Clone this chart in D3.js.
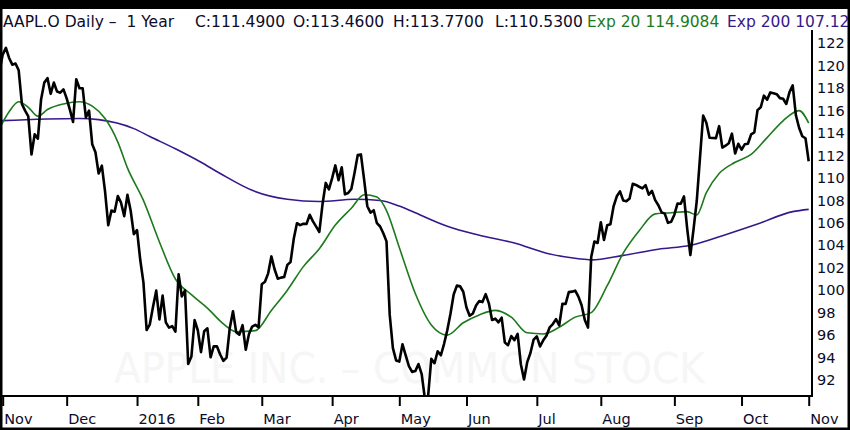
<!DOCTYPE html>
<html>
<head>
<meta charset="utf-8">
<script src="https://cdn.jsdelivr.net/npm/d3@7"></script>
<style>
  body { margin: 0; background: #fff; }
  svg { display: block; font-family: "DejaVu Sans", Verdana, sans-serif; }
</style>
</head>
<body>
<div id="graf"></div>
<script>
// trading sessions, Oct 30 2015 .. Nov 1 2016
const sessionMonths = ["2015-10", "2015-11", "2015-12", "2016-01", "2016-02", "2016-03", "2016-04",
  "2016-05", "2016-06", "2016-07", "2016-08", "2016-09", "2016-10", "2016-11"]
const sessionDays = [
  [30],
  [2, 3, 4, 5, 6, 9, 10, 11, 12, 13, 16, 17, 18, 19, 20, 23, 24, 25, 27, 30],
  [1, 2, 3, 4, 7, 8, 9, 10, 11, 14, 15, 16, 17, 18, 21, 22, 23, 24, 28, 29, 30, 31],
  [4, 5, 6, 7, 8, 11, 12, 13, 14, 15, 19, 20, 21, 22, 25, 26, 27, 28, 29],
  [1, 2, 3, 4, 5, 8, 9, 10, 11, 12, 16, 17, 18, 19, 22, 23, 24, 25, 26, 29],
  [1, 2, 3, 4, 7, 8, 9, 10, 11, 14, 15, 16, 17, 18, 21, 22, 23, 24, 28, 29, 30, 31],
  [1, 4, 5, 6, 7, 8, 11, 12, 13, 14, 15, 18, 19, 20, 21, 22, 25, 26, 27, 28, 29],
  [2, 3, 4, 5, 6, 9, 10, 11, 12, 13, 16, 17, 18, 19, 20, 23, 24, 25, 26, 27, 31],
  [1, 2, 3, 6, 7, 8, 9, 10, 13, 14, 15, 16, 17, 20, 21, 22, 23, 24, 27, 28, 29, 30],
  [1, 5, 6, 7, 8, 11, 12, 13, 14, 15, 18, 19, 20, 21, 22, 25, 26, 27, 28, 29],
  [1, 2, 3, 4, 5, 8, 9, 10, 11, 12, 15, 16, 17, 18, 19, 22, 23, 24, 25, 26, 29, 30, 31],
  [1, 2, 6, 7, 8, 9, 12, 13, 14, 15, 16, 19, 20, 21, 22, 23, 26, 27, 28, 29, 30],
  [3, 4, 5, 6, 7, 10, 11, 12, 13, 14, 17, 18, 19, 20, 21, 24, 25, 26, 27, 28, 31],
  [1]
]
const monthLabels = ["Nov", "Dec", "2016", "Feb", "Mar", "Apr", "May", "Jun", "Jul", "Aug", "Sep", "Oct", "Nov"]

// daily close, one month per line
const closes = [
  119.50,
  121.0, 121.6, 120.7, 120.1, 120.2, 119.6, 116.6, 116.0, 115.5, 112.1, 113.9, 113.5, 117.0, 118.5, 118.9, 117.5, 118.5, 117.7, 117.6, 117.9,
  117.1, 116.1, 115.0, 118.8, 118.0, 118.0, 115.4, 116.0, 113.0, 112.3, 110.4, 111.1, 108.8, 105.8, 107.1, 107.0, 108.4, 107.8, 106.6, 108.5, 107.1, 105.0,
  105.35, 102.71, 100.70, 96.45, 96.96, 98.53, 99.96, 97.39, 99.52, 97.13, 96.66, 96.79, 96.30, 101.42, 99.44, 99.99, 93.42, 94.09, 97.34,
  96.43, 94.48, 96.35, 96.60, 94.02, 95.01, 94.99, 94.27, 93.70, 93.99, 96.64, 98.12, 96.26, 96.04, 96.88, 94.69, 96.10, 96.76, 96.91, 96.69,
  100.53, 100.75, 101.50, 103.01, 101.87, 101.03, 101.12, 101.17, 102.26, 102.52, 104.58, 105.97, 105.80, 105.92, 105.91, 106.72, 106.13, 105.67, 105.19, 107.68, 109.56, 108.99,
  109.99, 111.12, 109.81, 110.96, 108.54, 108.66, 109.02, 110.44, 112.04, 112.10, 109.85, 107.48, 106.91, 107.13, 105.97, 105.68, 105.08, 104.35, 97.82, 94.83, 93.74,
  93.64, 95.18, 94.19, 93.24, 92.72, 92.79, 93.42, 92.51, 90.34, 90.52, 93.88, 93.49, 94.56, 94.20, 95.22, 96.43, 97.90, 99.62, 100.41, 100.35, 99.86,
  98.46, 97.72, 97.92, 98.63, 99.03, 98.94, 99.65, 98.83, 97.34, 97.46, 97.14, 97.55, 95.33, 95.10, 95.91, 95.55, 96.10, 93.40, 92.04, 93.59, 94.40, 95.60,
  95.89, 94.99, 95.53, 95.94, 96.68, 96.98, 97.42, 96.87, 98.79, 98.78, 99.83, 99.87, 99.96, 99.43, 98.66, 97.34, 96.67, 102.95, 104.34, 104.21,
  106.05, 104.48, 105.79, 105.87, 107.48, 108.37, 108.81, 108.00, 107.93, 108.18, 109.48, 109.38, 109.22, 109.08, 109.36, 108.51, 108.85, 108.03, 107.57, 106.94, 106.82, 106.00, 106.10,
  106.73, 107.73, 107.70, 108.36, 105.52, 103.13, 105.44, 107.95, 111.77, 115.57, 114.92, 113.58, 113.57, 113.55, 114.62, 112.71, 112.88, 113.09, 113.95, 112.18, 113.05,
  112.52, 113.00, 113.05, 113.89, 114.06, 116.05, 116.30, 117.34, 116.98, 117.63, 117.55, 117.47, 117.12, 117.06, 116.60, 117.65, 118.25, 115.59, 114.48, 113.72, 113.54,
  111.49
]

// moving averages (session number -> value)
const ema20Session = [0, 3, 6, 9, 12, 15, 20, 25, 29, 33, 37, 40, 45, 50, 55, 60, 65, 70, 74, 80, 85, 90, 95, 100,
  105, 110, 114, 118, 121, 125, 130, 135, 140, 145, 150, 155, 160, 165, 170, 175, 180, 185, 190, 195, 200,
  205, 210, 215, 218, 221, 225, 230, 235, 240, 245, 250, 253]
const ema20 = [114.4, 115.9, 116.8, 116.3, 115.5, 116.1, 116.6, 116.8, 116.4, 115.3, 113.2, 110.9, 108.0, 104.3, 101.0, 99.6, 98.4, 97.0, 96.3, 96.4, 98.2, 100.0, 102.1, 103.7,
  105.8, 107.3, 108.5, 108.3, 107.1, 103.8, 99.7, 96.9, 96.0, 97.1, 97.8, 98.2, 97.6, 96.2, 96.1, 96.7, 97.6, 98.0, 100.4, 103.3, 105.3,
  106.8, 106.9, 107.0, 106.7, 108.7, 110.4, 111.4, 112.1, 113.6, 115.1, 116.0, 114.9]

const ema200Session = [0, 25, 31, 42, 47, 55, 63, 69, 79, 90, 100, 111, 119, 125, 130, 140, 150, 161, 171, 181, 185,
  195, 206, 216, 227, 237, 248, 253]
const ema200 = [115.1, 115.3, 115.2, 114.4, 113.7, 112.6, 111.4, 110.4, 108.9, 108.1, 107.9, 108.1, 108.0, 107.5, 106.9, 105.7, 104.9, 104.2, 103.3, 102.8, 102.7,
  103.1, 103.65, 104.0, 104.95, 105.9, 107.0, 107.2]

const yTicks = [92, 94, 96, 98, 100, 102, 104, 106, 108, 110, 112, 114, 116, 118, 120, 122]

const headNames = ["C", "O", "H", "L"]
const headValues = [111.49, 113.46, 113.77, 110.53]
const lastEma20 = 114.9084
const lastEma200 = 107.12

const W = 850, H = 430
const plotLeft = 2, plotRight = 812, plotTop = 30, plotBottom = 396
const ink = "#0b0b2a"
const green = "#1c7a1c"
const purple = "#35188c"

// month starts from the session lists
const monthStarts = []
let count = 0
sessionDays.forEach((days, i) => {
  if (i > 0) monthStarts.push(count)
  count += days.length
})

const x = d3.scaleLinear()
  .domain([monthStarts[0], monthStarts[monthStarts.length - 1]])
  .range([2.7, 808.7])
const y = d3.scaleLinear()
  .domain([90.57, 123.19])
  .range([plotBottom, plotTop])

const svg = d3.select("#graf")
  .append("svg")
  .attr("width", W)
  .attr("height", H)

svg.append("rect").attr("width", W).attr("height", H).attr("fill", "#fff")

svg.append("clipPath").attr("id", "plot")
  .append("rect")
  .attr("x", plotLeft).attr("y", plotTop)
  .attr("width", plotRight - plotLeft).attr("height", plotBottom - plotTop)

// faint watermark
svg.append("text")
  .attr("x", 114)
  .attr("y", 383)
  .attr("font-size", 43)
  .attr("textLength", 591)
  .attr("lengthAdjust", "spacingAndGlyphs")
  .attr("fill", "#f6f6f6")
  .text("APPLE INC. \u2013 COMMON STOCK")

const lines = svg.append("g").attr("clip-path", "url(#plot)")

const ema200Line = d3.line()
  .x((d, i) => x(ema200Session[i]))
  .y(d => y(d))
  .curve(d3.curveMonotoneX)
lines.append("path")
  .datum(ema200)
  .attr("d", ema200Line)
  .attr("fill", "none")
  .attr("stroke", purple)
  .attr("stroke-width", 1.6)

const ema20Line = d3.line()
  .x((d, i) => x(ema20Session[i]))
  .y(d => y(d))
  .curve(d3.curveMonotoneX)
lines.append("path")
  .datum(ema20)
  .attr("d", ema20Line)
  .attr("fill", "none")
  .attr("stroke", green)
  .attr("stroke-width", 1.6)

const priceLine = d3.line()
  .x((d, i) => x(i))
  .y(d => y(d))
lines.append("path")
  .datum(closes)
  .attr("d", priceLine)
  .attr("fill", "none")
  .attr("stroke", "#000")
  .attr("stroke-width", 2.6)
  .attr("stroke-linejoin", "round")

// right axis
const yAxis = d3.axisRight(y).tickValues(yTicks).tickSize(0).tickPadding(5)
const gy = svg.append("g")
  .attr("transform", `translate(${plotRight}, 0)`)
  .call(yAxis)
gy.select(".domain").remove()
gy.selectAll("text")
  .attr("font-size", 14.5)
  .attr("font-family", "DejaVu Sans, sans-serif")
  .attr("fill", ink)

svg.append("line")
  .attr("x1", plotRight).attr("x2", plotRight)
  .attr("y1", plotTop).attr("y2", plotBottom + 1)
  .attr("stroke", "#000").attr("stroke-width", 2)

// bottom axis
const xAxis = d3.axisBottom(x)
  .tickValues(monthStarts)
  .tickFormat((d, i) => monthLabels[i])
  .tickSize(10)
  .tickSizeOuter(0)
const gx = svg.append("g")
  .attr("transform", `translate(0, ${plotBottom})`)
  .call(xAxis)
gx.select(".domain").remove()
gx.selectAll(".tick line").attr("stroke", "#000").attr("stroke-width", 2)
gx.selectAll("text")
  .attr("text-anchor", "start")
  .attr("x", 1)
  .attr("y", 28)
  .attr("dy", 0)
  .attr("font-size", 14.5)
  .attr("font-family", "DejaVu Sans, sans-serif")
  .attr("fill", ink)

svg.append("line")
  .attr("x1", 0).attr("x2", plotRight + 1)
  .attr("y1", plotBottom).attr("y2", plotBottom)
  .attr("stroke", "#000").attr("stroke-width", 2)

// header (the last value runs off the right edge, as in the source chart)
const head = svg.append("g").attr("font-size", 15.5)
head.append("text").attr("x", 3).attr("y", 26.5).attr("fill", ink)
  .attr("xml:space", "preserve")
  .text("AAPL.O Daily \u2013  1 Year")
const headX = [195, 293, 393, 495]
headNames.forEach((n, i) => {
  head.append("text").attr("x", headX[i]).attr("y", 26.5).attr("fill", ink)
    .text(`${n}:${headValues[i].toFixed(4)}`)
})
head.append("text").attr("x", 587).attr("y", 26.5).attr("fill", green)
  .text(`Exp 20 ${lastEma20.toFixed(4)}`)
head.append("text").attr("x", 727).attr("y", 26.5).attr("fill", purple)
  .text(`Exp 200 ${lastEma200.toFixed(2)}`)

// outer frame
svg.append("rect").attr("x", 0).attr("y", 0).attr("width", W).attr("height", 9).attr("fill", "#000")
svg.append("rect").attr("x", 0).attr("y", 0).attr("width", 2.5).attr("height", H).attr("fill", "#000")
svg.append("rect").attr("x", W - 2.5).attr("y", 0).attr("width", 2.5).attr("height", H).attr("fill", "#000")
svg.append("rect").attr("x", 0).attr("y", H - 2.5).attr("width", W).attr("height", 2.5).attr("fill", "#000")
</script>
</body>
</html>
